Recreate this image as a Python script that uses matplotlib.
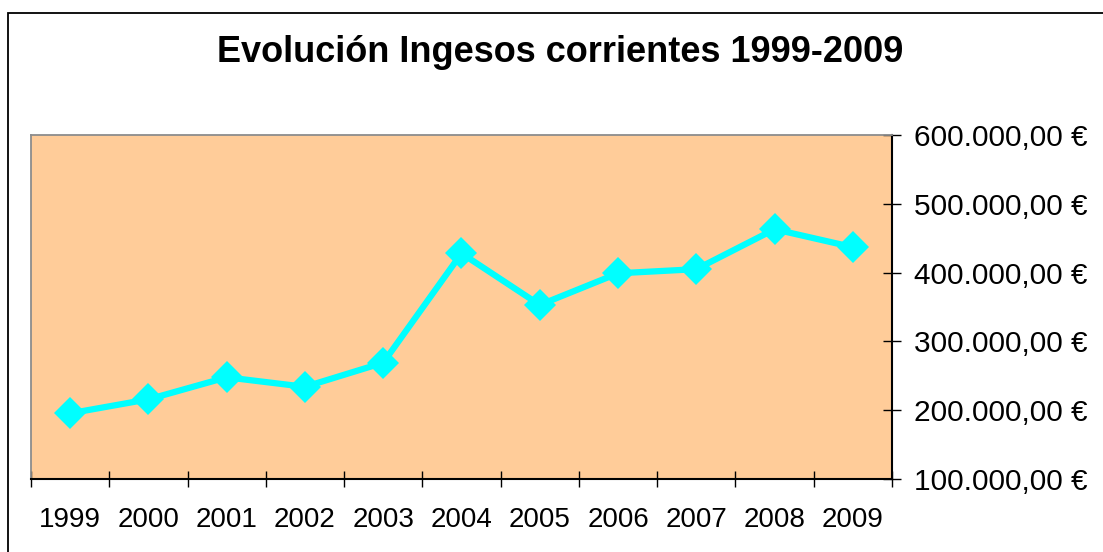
import numpy as np
import matplotlib
matplotlib.use("Agg")
import matplotlib.pyplot as plt
from matplotlib.ticker import FuncFormatter, FixedLocator

plt.rcParams['font.family'] = ['Liberation Sans', 'DejaVu Sans']

years = ['1999', '2000', '2001', '2002', '2003', '2004', '2005', '2006', '2007', '2008', '2009']
ingresos = [195500, 215800, 247800, 234000, 269000, 428000, 353000, 399000, 405000, 463000, 437000]
y_ticks = [100000, 200000, 300000, 400000, 500000, 600000]
title = 'Evolución Ingesos corrientes 1999-2009'


def euro(v, pos=None):
    s = f"{v:,.2f}".replace(',', 'X').replace('.', ',').replace('X', '.')
    return s + ' €'


W, H = 1103, 552
fig = plt.figure(figsize=(W / 100, H / 100), dpi=100)

# outer frame of the chart (only left and top visible)
frame = plt.Rectangle((8 / W, -0.2), 1.5, 1 - 13 / H + 0.2, transform=fig.transFigure,
                      fill=False, edgecolor='black', linewidth=1.3, clip_on=False)
fig.patches.append(frame)

ax = fig.add_axes([31 / W, 1 - 479 / H, (892 - 31) / W, (479 - 135) / H])
ax.set_facecolor('#FFCC99')

x = np.arange(len(years))
ax.plot(x, ingresos, color='#00FFFF', linewidth=4.5, marker='D', markersize=16,
        markeredgewidth=0, solid_joinstyle='miter')

ax.set_xlim(-0.5, len(years) - 0.5)
ax.set_ylim(100000, 600000)

ax.xaxis.set_major_locator(FixedLocator(x))
ax.set_xticklabels(years)
ax.xaxis.set_minor_locator(FixedLocator(np.arange(len(years) + 1) - 0.5))
ax.tick_params(axis='x', which='major', length=0, pad=20, labelsize=20)
ax.tick_params(axis='x', which='minor', direction='inout', length=11.5, width=1, color='black')

ax.yaxis.tick_right()
ax.yaxis.set_major_locator(FixedLocator(y_ticks))
ax.yaxis.set_major_formatter(FuncFormatter(euro))
ax.tick_params(axis='y', direction='inout', length=13.5, width=1, pad=9, labelsize=21.5, color='black')

for side in ['top', 'left']:
    ax.spines[side].set_color('#8C8C8C')
    ax.spines[side].set_linewidth(1.3)
for side in ['right', 'bottom']:
    ax.spines[side].set_color('black')
    ax.spines[side].set_linewidth(1.5)

fig.text(560 / W, 1 - 62 / H, title, ha='center', va='baseline',
         fontsize=26, fontweight='bold')

fig.savefig('out.png', dpi=100)
